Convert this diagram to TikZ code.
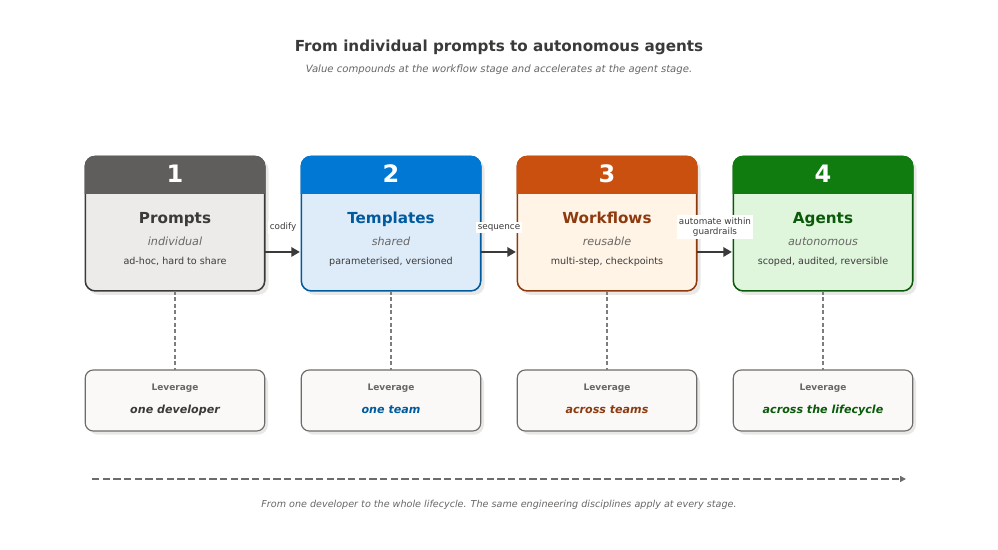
\documentclass[tikz,border=0pt]{standalone}
\usepackage{fontspec}
\setmainfont{DejaVu Sans}
\usetikzlibrary{arrows.meta,calc}
\definecolor{inkdark}{HTML}{3B3A39}
\definecolor{inkgrey}{HTML}{696765}
\definecolor{lineg}{HTML}{6E6C6A}
\definecolor{dropg}{HTML}{7F7D7B}
\definecolor{shade}{HTML}{E9E8E7}
\definecolor{levfill}{HTML}{FAF9F8}
\definecolor{hA}{HTML}{605E5C}\definecolor{fA}{HTML}{EDEBE9}\definecolor{bA}{HTML}{3B3A39}
\definecolor{hB}{HTML}{0078D4}\definecolor{fB}{HTML}{DEECF9}\definecolor{bB}{HTML}{005A9E}
\definecolor{hC}{HTML}{CA5010}\definecolor{fC}{HTML}{FFF4E6}\definecolor{bC}{HTML}{8E3A0F}
\definecolor{hD}{HTML}{107C10}\definecolor{fD}{HTML}{DFF6DD}\definecolor{bD}{HTML}{0B5A0B}
\newcommand{\pxfont}[1]{\fontsize{\dimexpr#1pt*3/4\relax}{\dimexpr#1pt*9/10\relax}\selectfont}
\tikzset{
  x=0.75pt,y=-0.75pt,
  txt/.style={inner sep=0pt,outer sep=0pt,anchor=base,align=center},
  cardbox/.style={draw=#1,line width=1.15pt,rounded corners=7.5pt,minimum width=134.6pt,minimum height=100.9pt,inner sep=0pt,outer sep=0pt},
  levbox/.style={draw=lineg,fill=levfill,line width=0.85pt,rounded corners=6pt,minimum width=134.6pt,minimum height=45.75pt,inner sep=0pt,outer sep=0pt},
  shadowbox/.style={fill=shade,rounded corners=7.5pt},
  flow/.style={draw=bA,line width=2pt,-{Triangle[length=6.5pt,width=7pt]},shorten >=1pt},
  drop/.style={draw=dropg,line width=0.95pt,dash pattern=on 2.9pt off 1.9pt},
  span/.style={draw=lineg,line width=1.2pt,dash pattern=on 5.6pt off 2.4pt,-{Triangle[length=4.5pt,width=4.5pt]}},
  edgelabel/.style={fill=white,inner xsep=1.5pt,inner ysep=1.5pt,outer sep=0pt,align=center,text=inkdark,font=\pxfont{8.8}},
}
\begin{document}
\begin{tikzpicture}
\useasboundingbox (0,0) rectangle (998,549);
\fill[white] (0,0) rectangle (998,549);
\node[txt,font=\bfseries\pxfont{15.2},text=inkdark] (title) at (499,52) {From individual prompts to autonomous agents};
\node[txt,font=\itshape\pxfont{10.1},text=inkgrey] (subtitle) at (499,73) {Value compounds at the workflow stage and accelerates at the agent stage.};
\foreach \i/\X in {1/85,2/301,3/517,4/733}{
  \fill[shadowbox] (\X+3.5,159.5) rectangle (\X+183.5,294.8);
  \fill[shadowbox] (\X+3,373) rectangle (\X+183,434.7);
}
\foreach \i/\X/\c/\num/\name/\kind/\desc/\lev/\levc in {
  1/85/A/1/Prompts/individual/{ad-hoc, hard to share}/one developer/inkdark,
  2/301/B/2/Templates/shared/{parameterised, versioned}/one team/bB,
  3/517/C/3/Workflows/reusable/{multi-step, checkpoints}/across teams/bC,
  4/733/D/4/Agents/autonomous/{scoped, audited, reversible}/across the lifecycle/bD}{
  \node[cardbox=b\c,fill=f\c] (c\i) at (\X+90,223.7) {};
  \begin{scope}
    \clip (\X-1,155) rectangle (\X+181,193);
    \fill[h\c,rounded corners=7.5pt] (\X-0.3,155.8) rectangle (\X+180.3,230);
  \end{scope}
  \node[txt,font=\bfseries\pxfont{24},text=white] (n\i) at (\X+90,182) {\num};
  \ifnum\i=1 \def\tc{inkdark}\else\def\tc{b\c}\fi
  \node[txt,font=\bfseries\pxfont{15.2},text=\tc] (t\i) at (\X+90,223) {\name};
  \node[txt,font=\itshape\pxfont{11.2},text=inkgrey] (k\i) at (\X+90,245) {\kind};
  \node[txt,font=\pxfont{9.6},text=inkdark] (d\i) at (\X+90,264) {\desc};
  \node[levbox] (l\i) at (\X+90,400.5) {};
  \node[txt,font=\bfseries\pxfont{9},text=inkgrey] (lh\i) at (\X+90,390) {Leverage};
  \node[txt,font=\bfseries\itshape\pxfont{11.1},text=\levc] (lv\i) at (\X+90,413) {\lev};
  \draw[drop] (c\i.south) -- (l\i.north);
}
\foreach \a/\b in {1/2,2/3,3/4}{
  \draw[flow] ([yshift=-21.2pt]c\a.east) -- ([yshift=-21.2pt]c\b.west);
}
\node[edgelabel] (e1) at (283,227.5) {codify};
\node[edgelabel] (e2) at (499,227.5) {sequence};
\node[edgelabel] (e3) at (715,227) {automate within\\guardrails};
\coordinate (s) at (92,479);
\coordinate (e) at (906,479);
\draw[span] (s) -- (e);
\node[txt,font=\itshape\pxfont{9.6},text=inkgrey] (foot) at (499,507) {From one developer to the whole lifecycle. The same engineering disciplines apply at every stage.};
\end{tikzpicture}
\end{document}
